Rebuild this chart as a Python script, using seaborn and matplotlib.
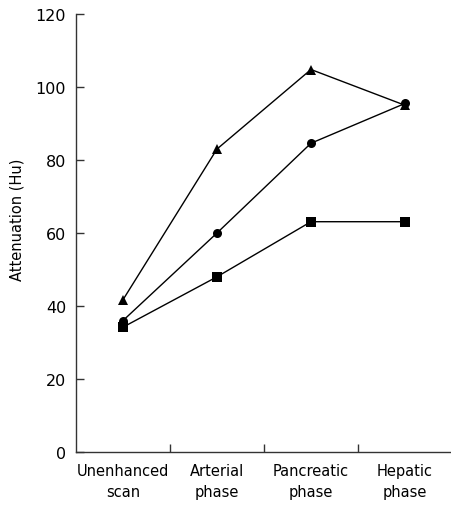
import pandas as pd
import numpy as np
import matplotlib.pyplot as plt
import seaborn as sns
from matplotlib.ticker import FixedLocator

phases = ["Unenhanced\nscan", "Arterial\nphase", "Pancreatic\nphase", "Hepatic\nphase"]
triangle_vals = [41.7, 83, 104.8, 95]
circle_vals = [36, 60, 84.6, 95.5]
square_vals = [34.2, 48, 63.1, 63.1]

sns.set_style("white")
plt.rcParams['font.family'] = ['DejaVu Sans']
plt.rcParams['text.color'] = 'black'
plt.rcParams['axes.labelcolor'] = 'black'
plt.rcParams['xtick.color'] = 'black'
plt.rcParams['ytick.color'] = 'black'

rows = []
for name, vals in [("tri", triangle_vals), ("circ", circle_vals), ("sq", square_vals)]:
    for i, v in enumerate(vals):
        rows.append({"phase": i, "value": v, "series": name})
df = pd.DataFrame(rows)

fig = plt.figure(figsize=(4.52, 5.06), dpi=100)
ax = fig.add_axes([0.168, 0.1047, 0.832, 0.8656])

sns.lineplot(data=df, x="phase", y="value", style="series",
             markers={"tri": "^", "circ": "o", "sq": "s"}, dashes=False,
             color="black", linewidth=1, markersize=6.5, markeredgewidth=0,
             legend=False, ax=ax)

ax.set_xlim(-0.5, 3.5)
ax.set_ylim(0, 120)
ax.set_yticks(np.arange(0, 121, 20))
ax.set_xticks(range(len(phases)))
ax.set_xticklabels(phases, fontsize=10.5, linespacing=1.5)
ax.xaxis.set_minor_locator(FixedLocator([0.5, 1.5, 2.5]))
ax.tick_params(axis="x", which="major", length=0, pad=8, labelcolor="black")
ax.tick_params(axis="x", which="minor", direction="in", length=6, width=1, color="#333333", bottom=True)
ax.tick_params(axis="y", direction="in", length=6, width=1, color="#333333",
               labelsize=11.5, pad=7, left=True, labelcolor="black")
ax.set_xlabel("")
ax.set_ylabel("Attenuation (Hu)", fontsize=10.5, color="black")
ax.yaxis.set_label_coords(-0.136, 0.532)

sns.despine(ax=ax, top=True, right=True)
for s in ["left", "bottom"]:
    ax.spines[s].set_color("#333333")
    ax.spines[s].set_linewidth(1)

fig.savefig("out.png", dpi=100)
